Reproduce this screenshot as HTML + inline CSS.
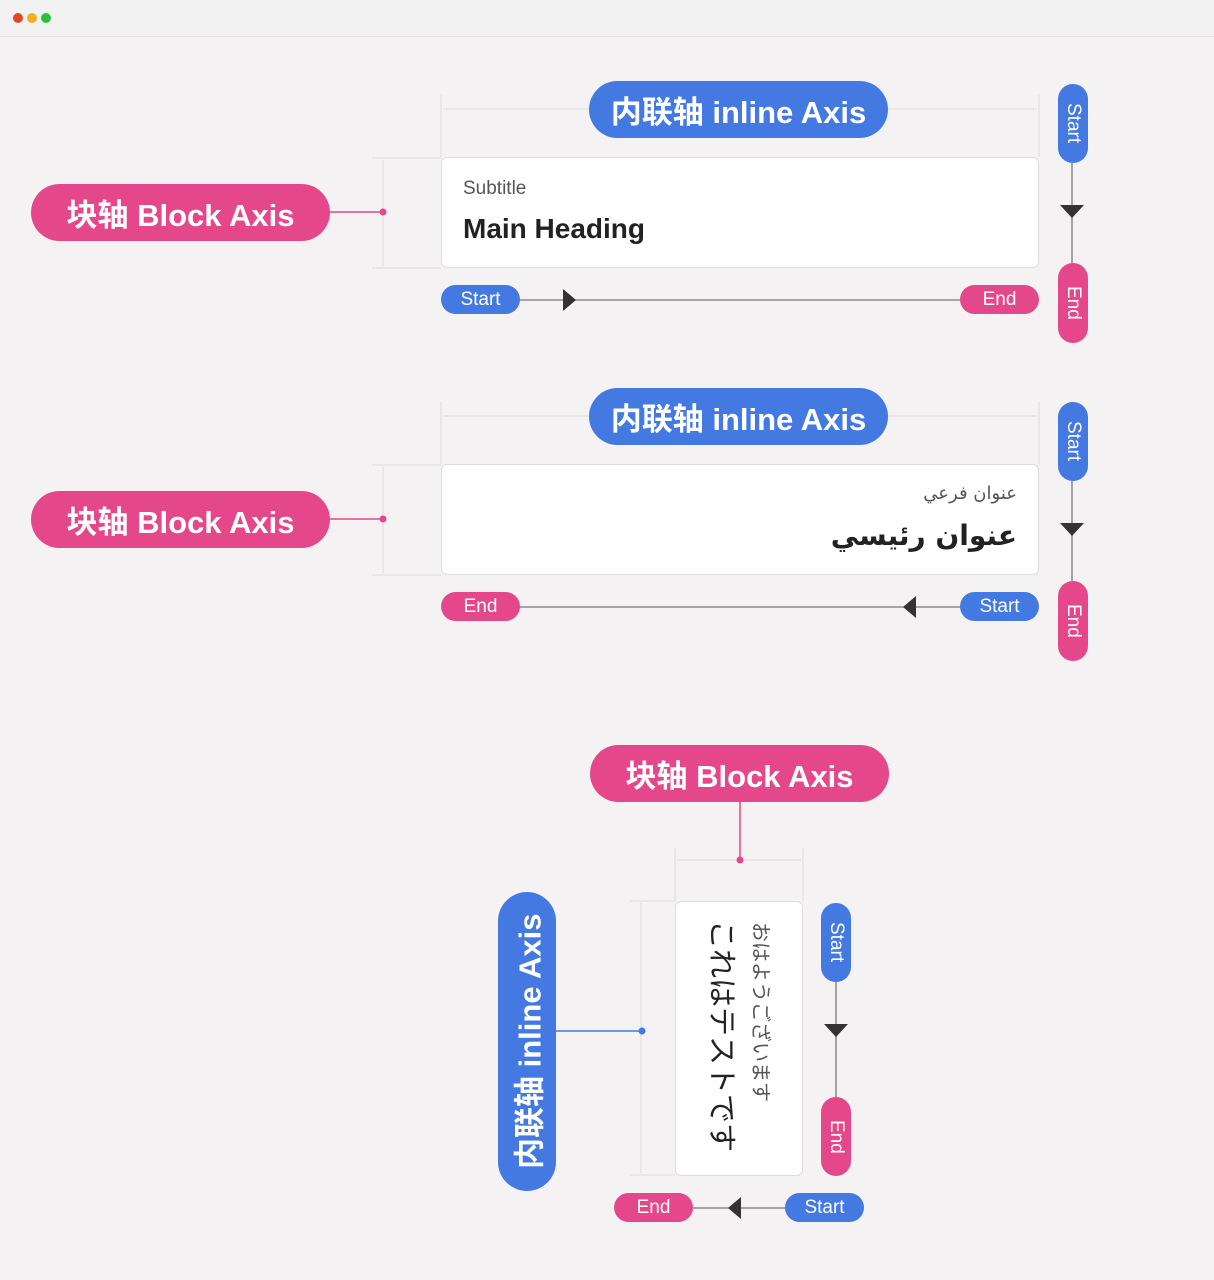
<!DOCTYPE html>
<html><head><meta charset="utf-8"><style>
body{margin:0;width:1214px;height:1280px;background:#f4f2f3;position:relative;overflow:hidden;font-family:"Liberation Sans","Noto Sans CJK SC",sans-serif}
.a{position:absolute;box-sizing:border-box}
.pill{position:absolute;display:flex;align-items:center;justify-content:center;color:#fff;border-radius:30px;box-sizing:border-box}
.big{font-weight:bold;font-size:31px;letter-spacing:0}
.b{background:#4479e2}.p{background:#e5488a}
.sm{font-size:19px;border-radius:15px}
.v{writing-mode:vertical-rl;text-orientation:sideways}
.card{position:absolute;background:#fff;border:1px solid #dedcdd;border-radius:6px;box-sizing:border-box}
</style></head><body>
<div class="a" style="left:0;top:0;width:1214px;height:37px;background:#f3f2f2;border-bottom:1px solid #e6e4e5"></div>
<svg class="a" style="left:0;top:0" width="1214" height="1280">
<circle cx="18" cy="18" r="5" fill="#e0472b"/><circle cx="32" cy="18" r="5" fill="#f2b01c"/><circle cx="46" cy="18" r="5" fill="#29c240"/>
<g stroke="#dcdadb" stroke-width="1" fill="none">
<line x1="441" y1="95" x2="441" y2="157"/><line x1="1039" y1="95" x2="1039" y2="157"/><line x1="443" y1="109" x2="1037" y2="109"/>
<line x1="372" y1="158" x2="441" y2="158"/><line x1="372" y1="268" x2="441" y2="268"/><line x1="383" y1="160" x2="383" y2="266"/>
<line x1="441" y1="402" x2="441" y2="464"/><line x1="1039" y1="402" x2="1039" y2="464"/><line x1="443" y1="416" x2="1037" y2="416"/>
<line x1="372" y1="465" x2="441" y2="465"/><line x1="372" y1="575" x2="441" y2="575"/><line x1="383" y1="467" x2="383" y2="573"/>
<line x1="675" y1="848" x2="675" y2="901"/><line x1="803" y1="848" x2="803" y2="901"/><line x1="677" y1="860" x2="801" y2="860"/>
<line x1="630" y1="901" x2="675" y2="901"/><line x1="630" y1="1175" x2="675" y2="1175"/><line x1="641" y1="903" x2="641" y2="1173"/>
</g>
<g stroke="#e5488a" stroke-width="1.5"><line x1="330" y1="212" x2="383" y2="212"/><line x1="330" y1="519" x2="383" y2="519"/><line x1="740" y1="802" x2="740" y2="860"/></g>
<circle cx="383" cy="212" r="3.5" fill="#e5488a"/><circle cx="383" cy="519" r="3.5" fill="#e5488a"/><circle cx="740" cy="860" r="3.5" fill="#e5488a"/>
<line x1="556" y1="1031" x2="642" y2="1031" stroke="#4479e2" stroke-width="1.5"/><circle cx="642" cy="1031" r="3.5" fill="#4479e2"/>
<g stroke="#777" stroke-width="1.3">
<line x1="520" y1="300" x2="960" y2="300"/><line x1="520" y1="607" x2="960" y2="607"/><line x1="693" y1="1208" x2="785" y2="1208"/>
<line x1="1072" y1="163" x2="1072" y2="263"/><line x1="1072" y1="481" x2="1072" y2="581"/><line x1="836" y1="982" x2="836" y2="1097"/>
</g>
<g fill="#333">
<polygon points="563,289 576,300 563,311"/><polygon points="916,596 903,607 916,618"/><polygon points="741,1197 728,1208 741,1219"/>
<polygon points="1060,205 1084,205 1072,218"/><polygon points="1060,523 1084,523 1072,536"/><polygon points="824,1024 848,1024 836,1037"/>
</g>
</svg>
<div class="pill b big" style="left:589px;top:81px;width:299px;height:57px">内联轴 inline Axis</div>
<div class="pill p big" style="left:31px;top:184px;width:299px;height:57px">块轴 Block Axis</div>
<div class="card" style="left:441px;top:157px;width:598px;height:111px">
<div class="a" style="left:21px;top:20px;font-size:19px;color:#555">Subtitle</div>
<div class="a" style="left:21px;top:55px;font-size:28px;font-weight:bold;color:#222">Main Heading</div></div>
<div class="pill b sm" style="left:441px;top:285px;width:79px;height:29px">Start</div>
<div class="pill p sm" style="left:960px;top:285px;width:79px;height:29px">End</div>
<div class="pill b sm v" style="left:1058px;top:84px;width:30px;height:79px">Start</div>
<div class="pill p sm v" style="left:1058px;top:263px;width:30px;height:80px">End</div>
<div class="pill b big" style="left:589px;top:388px;width:299px;height:57px">内联轴 inline Axis</div>
<div class="pill p big" style="left:31px;top:491px;width:299px;height:57px">块轴 Block Axis</div>
<div class="card" style="left:441px;top:464px;width:598px;height:111px;direction:rtl;font-family:'DejaVu Sans',sans-serif">
<div class="a" style="right:21px;top:18px;font-size:18px;color:#555">عنوان فرعي</div>
<div class="a" style="right:21px;top:54px;font-size:28px;font-weight:bold;color:#222">عنوان رئيسي</div></div>
<div class="pill p sm" style="left:441px;top:592px;width:79px;height:29px">End</div>
<div class="pill b sm" style="left:960px;top:592px;width:79px;height:29px">Start</div>
<div class="pill b sm v" style="left:1058px;top:402px;width:30px;height:79px">Start</div>
<div class="pill p sm v" style="left:1058px;top:581px;width:30px;height:80px">End</div>
<div class="pill p big" style="left:590px;top:745px;width:299px;height:57px">块轴 Block Axis</div>
<div class="pill b big v" style="left:498px;top:892px;width:58px;height:299px;transform:rotate(180deg)">内联轴 inline Axis</div>
<div class="card" style="left:675px;top:901px;width:128px;height:275px;font-family:'Noto Sans CJK JP',sans-serif">
<div class="a v" style="left:72px;top:20px;font-size:20px;color:#555;line-height:28px">おはようございます</div>
<div class="a v" style="left:28px;top:18px;font-size:29px;color:#222;line-height:40px">これはテストです</div></div>
<div class="pill b sm v" style="left:821px;top:903px;width:30px;height:79px">Start</div>
<div class="pill p sm v" style="left:821px;top:1097px;width:30px;height:79px">End</div>
<div class="pill p sm" style="left:614px;top:1193px;width:79px;height:29px">End</div>
<div class="pill b sm" style="left:785px;top:1193px;width:79px;height:29px">Start</div>
</body></html>
